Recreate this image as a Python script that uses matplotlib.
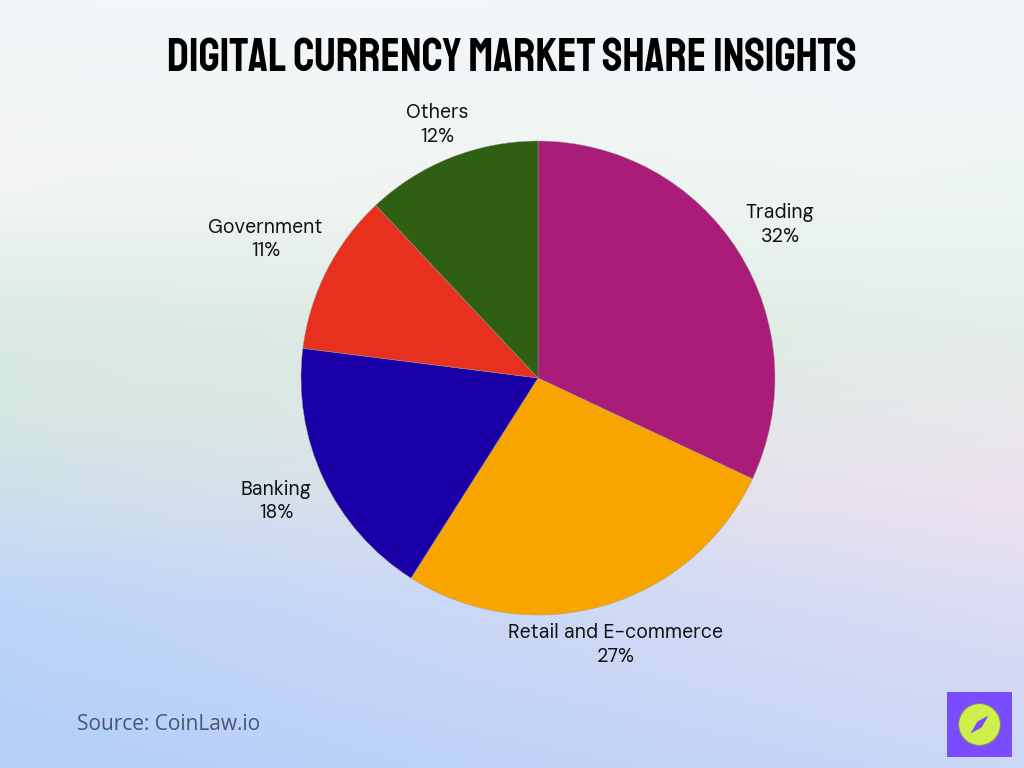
import numpy as np
import matplotlib.pyplot as plt
from matplotlib import font_manager
from matplotlib.colors import to_rgb
from matplotlib.patches import Rectangle, Ellipse, Polygon

labels = ["Trading", "Retail and E-commerce", "Banking", "Government", "Others"]
shares = [32, 27, 18, 11, 12]
colors = ["#A91D78", "#F9A500", "#1A00A6", "#E8301F", "#2F5F10"]

installed = {f.name for f in font_manager.fontManager.ttflist}


def pick(*cands):
    for c in cands:
        if c in installed:
            return c
    return "DejaVu Sans"


title_font = pick("Staatliches", "Bebas Neue", "Anton", "Oswald")
label_font = pick("DM Sans", "Inter")
source_font = pick("Open Sans", "DejaVu Sans")

fig = plt.figure(figsize=(10.24, 7.68), dpi=100)

# background gradient: colour stops down the left and right edges
stops_y = [0, 200, 330, 420, 500, 600, 768]
left_c = ["#F4F7FA", "#F1F4F1", "#D8EAE2", "#D4E6E2", "#CDDFEC", "#BDD5F8", "#B2CFF9"]
right_c = ["#F2F6FB", "#EDF5F2", "#E4EDE7", "#E9E8EC", "#EDE1EE", "#DCDDF3", "#CAD7F6"]
ys = np.arange(768)
L = np.array([np.interp(ys, stops_y, [to_rgb(c)[k] for c in left_c]) for k in range(3)]).T
R = np.array([np.interp(ys, stops_y, [to_rgb(c)[k] for c in right_c]) for k in range(3)]).T
t = np.linspace(0, 1, 256)[None, :, None]
img = L[:, None, :] * (1 - t) + R[:, None, :] * t
bg = fig.add_axes([0, 0, 1, 1])
bg.imshow(img, aspect="auto", extent=[0, 1, 0, 1], origin="upper")
bg.set_xlim(0, 1)
bg.set_ylim(0, 1)
bg.axis("off")

fig.text(0.5, 1 - 54 / 768, "Digital Currency Market Share Insights", ha="center",
         va="center", fontsize=33.5, family=title_font, color="black")

# pie
cx, cy, r = 538, 378, 237
ax = fig.add_axes([(cx - r) / 1024, (768 - cy - r) / 768, 2 * r / 1024, 2 * r / 768])
wedges, _ = ax.pie(shares, colors=colors, startangle=90, counterclock=False,
                   wedgeprops=dict(edgecolor="#999999", linewidth=0.3))
label_dist = [1.21, 1.17, 1.22, 1.29, 1.15]
for wdg, lab, s, d in zip(wedges, labels, shares, label_dist):
    ang = np.deg2rad((wdg.theta1 + wdg.theta2) / 2)
    ax.text(d * np.cos(ang), d * np.sin(ang), f"{lab}\n{s}%", ha="center", va="center",
            fontsize=14, family=label_font, color="#111111", linespacing=1.3)
ax.set_xlim(-1, 1)
ax.set_ylim(-1, 1)
ax.axis("off")

fig.text(77 / 1024, 1 - 725 / 768, "Source: CoinLaw.io", ha="left", va="center",
         fontsize=15, family=source_font, color="#4A5670")

# logo
lx0, ly0, lw = 947, 692, 65
bg.add_patch(Rectangle((lx0 / 1024, 1 - (ly0 + lw) / 768), lw / 1024, lw / 768,
                       facecolor="#7A4BFF", edgecolor="none"))
ccx, ccy = (lx0 + lw / 2) / 1024, 1 - (ly0 + lw / 2) / 768
bg.add_patch(Ellipse((ccx, ccy), 42 / 1024, 42 / 768, facecolor="#CDF04B",
                     edgecolor="#8a7a8a", linewidth=0.8))
d = np.array([[9, 9], [2, -3], [-9, -9], [-2, 3]]) * np.array([1 / 1024, 1 / 768])
bg.add_patch(Polygon(np.column_stack([ccx + d[:, 0], ccy + d[:, 1]]),
                     facecolor="#7A4BFF", edgecolor="none"))

fig.savefig("out.png", dpi=100)
